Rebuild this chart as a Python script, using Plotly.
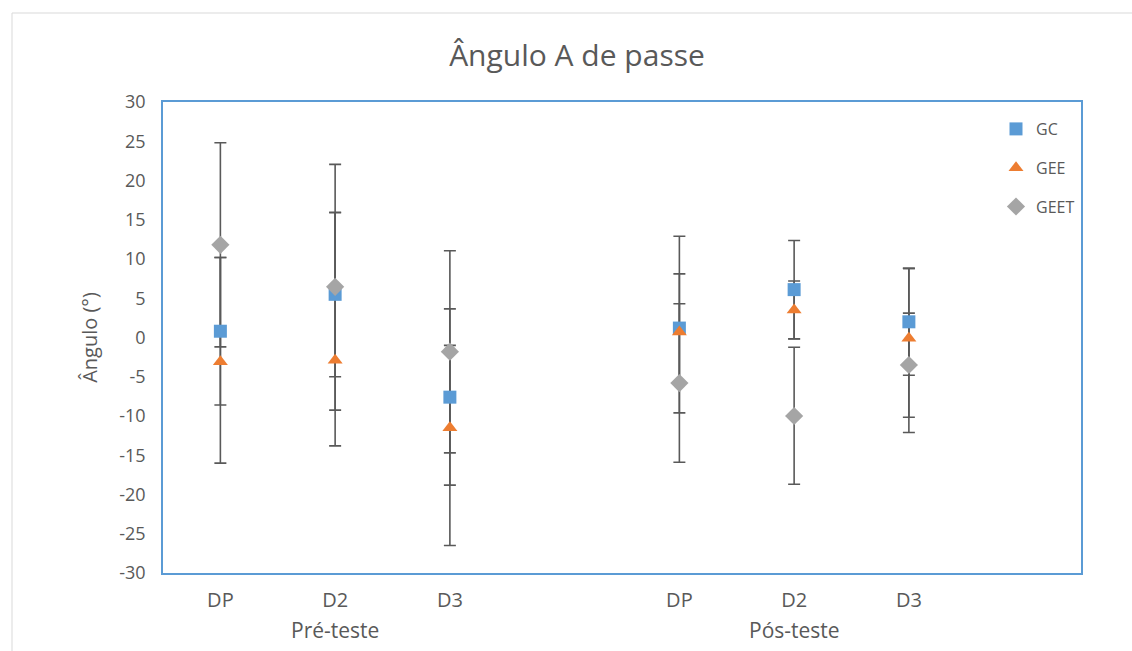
import plotly.graph_objects as go

# Groups and tests along the category axis
phases = ["Pré-teste", "Pós-teste"]
tests = ["DP", "D2", "D3"]

# y-axis ticks
y_ticks = [-30, -25, -20, -15, -10, -5, 0, 5, 10, 15, 20, 25, 30]

# Mean passing angle A (degrees) per group, ordered Pré DP, D2, D3, Pós DP, D2, D3
gc_mean = [0.8, 5.5, -7.6, 1.2, 6.1, 2.0]
gc_err_plus = [9.4, 10.45, 11.25, 6.9, 6.25, 6.8]
gc_err_minus = [9.4, 10.5, 11.2, 6.9, 6.25, 6.8]

gee_mean = [-3.1, -2.9, -11.5, 0.7, 3.5, -0.1]
gee_err_plus = [13.3, 18.8, 10.5, 12.2, 3.7, 8.9]
gee_err_minus = [12.9, 10.9, 15.0, 10.3, 3.7, 12.0]

geet_mean = [11.8, 6.45, -1.8, -5.8, -10.0, -3.5]
geet_err_plus = [13.0, 15.6, 12.85, 10.1, 8.75, 6.6]
geet_err_minus = [13.0, 15.7, 12.9, 10.1, 8.7, 6.65]

# x position of each point: each phase occupies four slots (three tests + a gap)
slots_per_phase = len(tests) + 1
xpos = [p * slots_per_phase + t for p in range(len(phases)) for t in range(len(tests))]
tick_text = [t for _ in phases for t in tests]
phase_centres = [p * slots_per_phase + (len(tests) - 1) / 2 for p in range(len(phases))]

series = [
    ("GC", gc_mean, gc_err_plus, gc_err_minus, "#5B9BD5", "square", 13),
    ("GEE", gee_mean, gee_err_plus, gee_err_minus, "#ED7D31", "triangle-up", 13),
    ("GEET", geet_mean, geet_err_plus, geet_err_minus, "#A5A5A5", "diamond", 14),
]

fig = go.Figure()

# error bars first so every marker sits on top of them
for name, mean, ep, em, color, symbol, size in series:
    fig.add_trace(go.Scatter(
        x=xpos, y=mean, mode="markers", showlegend=False, hoverinfo="skip",
        marker=dict(size=1, color="rgba(0,0,0,0)"),
        error_y=dict(type="data", symmetric=False, array=ep, arrayminus=em,
                     color="#595959", thickness=1.6, width=6),
    ))

for name, mean, ep, em, color, symbol, size in series:
    fig.add_trace(go.Scatter(
        x=xpos, y=mean, mode="markers", name=name, legendgroup=name,
        marker=dict(size=size, color=color, symbol=symbol, line=dict(width=0)),
    ))

font_family = "Open Sans, Noto Sans, sans-serif"
grey_text = "#595959"

for centre, label in zip(phase_centres, phases):
    fig.add_annotation(x=centre, y=-0.12, xref="x", yref="paper", text=label,
                       showarrow=False, font=dict(size=21, color=grey_text, family=font_family),
                       yanchor="middle")

# light outer frame of the chart area
W, H = 1132, 651
L, R, T, B = 163, 51, 102, 78
pw, ph = W - L - R, H - T - B
def px_x(v):
    return (v - L) / pw
def px_y(v):
    return (H - B - v) / ph
fig.add_shape(type="rect", xref="paper", yref="paper",
              x0=px_x(12), x1=px_x(W + 20), y0=px_y(13), y1=px_y(H + 20),
              line=dict(color="#D9D9D9", width=1), layer="below")

fig.update_layout(
    width=W, height=H,
    margin=dict(l=L, r=R, t=T, b=B),
    paper_bgcolor="white", plot_bgcolor="white",
    font=dict(family=font_family, color=grey_text, size=16),
    title=dict(text="Ângulo A de passe", x=577 / W, xanchor="center",
               y=1 - 55 / H, yanchor="middle",
               font=dict(size=30, color=grey_text, family=font_family)),
    showlegend=True,
    legend=dict(x=px_x(996), y=px_y(112), xanchor="left", yanchor="top",
                bgcolor="rgba(0,0,0,0)", font=dict(size=16, color=grey_text),
                traceorder="grouped", tracegroupgap=15, itemwidth=30),
    xaxis=dict(range=[-0.5, 2 * slots_per_phase - 0.5], tickmode="array",
               tickvals=xpos, ticktext=tick_text, showgrid=False, zeroline=False,
               showline=True, mirror=True, linecolor="#5B9BD5", linewidth=1.5,
               ticks="", ticklabelstandoff=8, tickfont=dict(size=20, color=grey_text)),
    yaxis=dict(range=[-30, 30], tickmode="array", tickvals=y_ticks,
               ticktext=[str(v) for v in y_ticks], showgrid=False, zeroline=False,
               showline=True, mirror=True, linecolor="#5B9BD5", linewidth=1.5,
               ticks="", ticklabelstandoff=12, tickfont=dict(size=18, color=grey_text),
               title=dict(text="Ângulo (°)", font=dict(size=20, color=grey_text), standoff=16)),
)

fig.write_html("out.html")
